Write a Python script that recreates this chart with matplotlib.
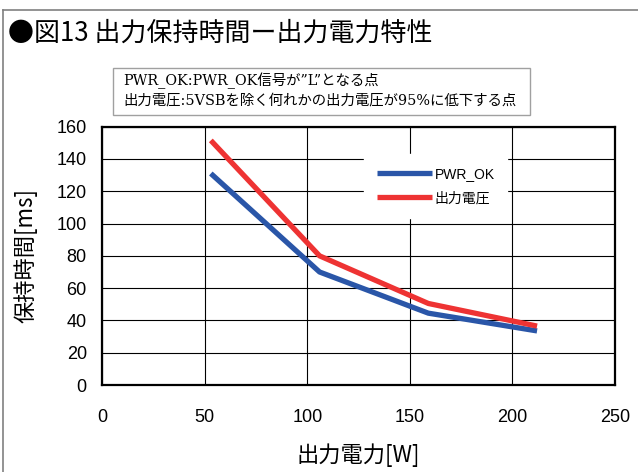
import matplotlib
matplotlib.use("Agg")
import matplotlib.pyplot as plt
from matplotlib.lines import Line2D
from matplotlib.patches import Rectangle

# data
power_w = [53, 106, 159, 212]
pwr_ok_ms = [131, 70, 44.5, 33.5]
vout_ms = [151.5, 80, 50.5, 36.5]
xticks = [0, 50, 100, 150, 200, 250]
yticks = [0, 20, 40, 60, 80, 100, 120, 140, 160]

CJK = ["Noto Sans CJK JP", "DejaVu Sans"]
plt.rcParams["font.family"] = ["Liberation Sans", "Noto Sans CJK JP"]

fig = plt.figure(figsize=(6.38, 4.72), dpi=100)
ax = fig.add_axes([0.160, 0.1843, 0.804, 0.5473])

ax.plot(power_w, pwr_ok_ms, color="#2a56a8", lw=3.8, label="PWR_OK",
        solid_capstyle="butt", zorder=3)
ax.plot(power_w, vout_ms, color="#ee3333", lw=3.8, label="出力電圧",
        solid_capstyle="butt", zorder=3)

ax.set_xlim(0, 250)
ax.set_ylim(0, 160)
ax.set_xticks(xticks)
ax.set_yticks(yticks)
ax.grid(True, color="black", lw=0.8)
ax.set_axisbelow(True)
for s in ax.spines.values():
    s.set_linewidth(1.6)
ax.tick_params(axis="both", length=0, labelsize=13)
ax.tick_params(axis="x", pad=17)
ax.tick_params(axis="y", pad=11)

ax.set_xlabel("出力電力[W]", family=CJK, fontsize=16, labelpad=13)
ax.set_ylabel("保持時間[ms]", family=CJK, fontsize=16, labelpad=14)

leg = ax.legend(loc="center", bbox_to_anchor=(0.683, 0.606),
                bbox_transform=fig.transFigure, fontsize=10,
                handlelength=4.0, handletextpad=0.15, labelspacing=0.75,
                frameon=True, fancybox=False, borderpad=0.9)
leg.get_frame().set_facecolor("white")
leg.get_frame().set_edgecolor("white")
leg.get_frame().set_alpha(1.0)

# title
fig.text(8 / 638, 1 - 33 / 472, "●図13 出力保持時間ー出力電力特性",
         family=CJK, fontsize=18.7, va="center", ha="left")

# note box
fig.patches.append(Rectangle((113 / 638, 1 - 115 / 472), 417 / 638, 47 / 472,
                             transform=fig.transFigure, fill=False,
                             edgecolor="#a0a0a0", lw=1.0))
note_font = ["DejaVu Serif", "Noto Sans CJK JP"]
fig.text(123 / 638, 1 - 81 / 472, "PWR_OK:PWR_OK信号が”L”となる点",
         family=note_font, fontsize=10.4, va="center", ha="left")
fig.text(123 / 638, 1 - 101 / 472, "出力電圧:5VSBを除く何れかの出力電圧が95%に低下する点",
         family=note_font, fontsize=10.4, va="center", ha="left")

# outer frame (left and top edges)
fig.lines.append(Line2D([3 / 638, 3 / 638], [0, 1 - 10 / 472],
                        transform=fig.transFigure, color="#808080", lw=1.2))
fig.lines.append(Line2D([3 / 638, 1], [1 - 10 / 472, 1 - 10 / 472],
                        transform=fig.transFigure, color="#808080", lw=1.2))

fig.savefig("out.png", dpi=100)
